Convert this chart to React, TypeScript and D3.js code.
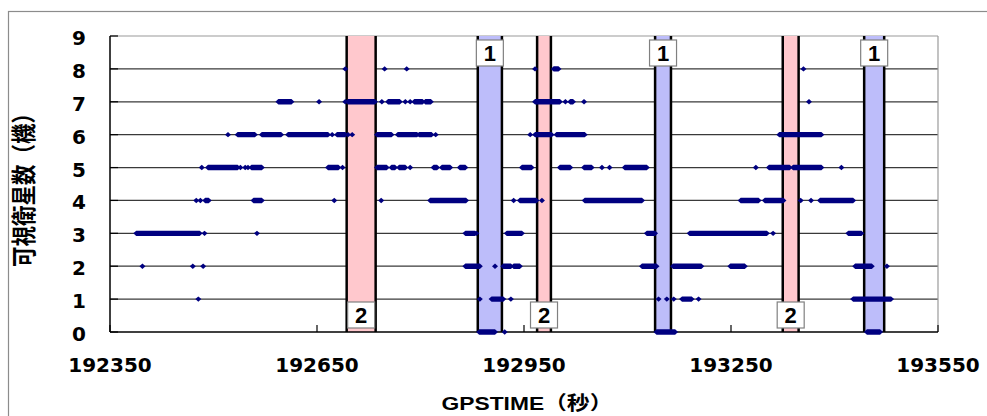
import React from "react";
import * as d3 from "d3";

type Span = [number, number];

// Axis ticks
const xTicks = [192350, 192650, 192950, 193250, 193550];
const yTicks = [0, 1, 2, 3, 4, 5, 6, 7, 8, 9];

// Highlighted intervals (GPSTIME seconds) and their marker labels
const bandStart = [192693, 192883, 192969, 193140, 193325, 193443];
const bandEnd = [192735, 192918, 192989, 193163, 193348, 193472];
const bandType = [2, 1, 2, 1, 2, 1];

// Epochs with a given number of visible satellites, as [from, to] runs
const visible8: Span[] = [[192691, 192691], [192748, 192748], [192780, 192780], [192966, 192966], [192993, 193000], [193355, 193355]];
const visible7: Span[] = [[192594, 192613], [192653, 192653], [192691, 192691], [192695, 192734], [192744, 192744], [192753, 192770], [192778, 192778], [192785, 192785], [192791, 192803], [192807, 192815], [192966, 193002], [193010, 193010], [193017, 193021], [193037, 193037], [193363, 193363]];
const visible6: Span[] = [[192521, 192521], [192535, 192560], [192570, 192598], [192608, 192666], [192672, 192672], [192679, 192691], [192695, 192695], [192701, 192701], [192737, 192758], [192767, 192795], [192798, 192816], [192822, 192822], [192959, 192959], [192966, 192990], [192997, 193038], [193320, 193381]];
const visible5: Span[] = [[192483, 192483], [192492, 192535], [192539, 192539], [192546, 192546], [192550, 192550], [192555, 192570], [192666, 192681], [192687, 192687], [192737, 192751], [192758, 192763], [192769, 192778], [192785, 192785], [192819, 192824], [192831, 192843], [192857, 192865], [192947, 192961], [193002, 193017], [193037, 193048], [193063, 193063], [193074, 193074], [193096, 193128], [193286, 193286], [193305, 193335], [193340, 193381], [193410, 193410]];
const visible4: Span[] = [[192475, 192475], [192481, 192481], [192488, 192493], [192558, 192570], [192675, 192675], [192743, 192743], [192814, 192866], [192935, 192935], [192944, 192968], [192976, 192976], [193038, 193121], [193264, 193290], [193299, 193326], [193351, 193351], [193366, 193366], [193379, 193427]];
const visible3: Span[] = [[192388, 192480], [192487, 192487], [192563, 192563], [192865, 192879], [192881, 192881], [192925, 192947], [193128, 193140], [193190, 193302], [193311, 193311], [193420, 193439]];
const visible2: Span[] = [[192397, 192397], [192470, 192470], [192485, 192485], [192865, 192886], [192908, 192908], [192920, 192931], [192935, 192944], [193121, 193142], [193166, 193207], [193249, 193270], [193430, 193454], [193476, 193476]];
const visible1: Span[] = [[192478, 192478], [192886, 192886], [192903, 192920], [192931, 192931], [193145, 193145], [193157, 193157], [193167, 193167], [193179, 193193], [193203, 193203], [193427, 193482]];
const visible0: Span[] = [[192885, 192908], [192922, 192922], [193142, 193169], [193447, 193466]];

const rows: [number, Span[]][] = [
  [0, visible0], [1, visible1], [2, visible2], [3, visible3], [4, visible4],
  [5, visible5], [6, visible6], [7, visible7], [8, visible8],
];

const W = 987;
const H = 416;
const plot = { left: 110, right: 938, top: 36, bottom: 332 };

const x = d3.scaleLinear().domain([192350, 193550]).range([plot.left, plot.right]);
const y = d3.scaleLinear().domain([0, 9]).range([plot.bottom, plot.top]);

const NAVY = "#000080";
const numFont = "'DejaVu Sans', sans-serif";
const jpFont = "'Liberation Sans', 'Noto Sans CJK JP', sans-serif";

// Diamond marker, stretched into a bar for consecutive epochs
function spanPath([t0, t1]: Span, n: number): string {
  const a = x(t0);
  const b = x(t1);
  const cy = y(n);
  const hw = 3;
  const hh = 2.7;
  const p = d3.path();
  p.moveTo(a - hw, cy);
  p.lineTo(a, cy - hh);
  p.lineTo(b, cy - hh);
  p.lineTo(b + hw, cy);
  p.lineTo(b, cy + hh);
  p.lineTo(a, cy + hh);
  p.closePath();
  return p.toString();
}

export default function App() {
  const boxW = 27;
  const boxH = 26;
  return (
    <svg
      width={W}
      height={H}
      style={{ position: "absolute", left: 0, top: 0, background: "#fff" }}
    >
      {/* outer chart frame */}
      <rect x={8.5} y={11.5} width={1200} height={600} fill="#fff" stroke="#8c8c8c" strokeWidth={1.2} />

      {/* plot area */}
      <rect x={plot.left} y={plot.top} width={plot.right - plot.left} height={plot.bottom - plot.top} fill="#fff" />

      {/* horizontal gridlines */}
      {yTicks.filter((v) => v > 0 && v < 9).map((v) => (
        <line key={`g${v}`} x1={plot.left} x2={plot.right} y1={y(v)} y2={y(v)} stroke="#3a3a3a" strokeWidth={1.2} />
      ))}
      <line x1={plot.left} x2={plot.right} y1={plot.top} y2={plot.top} stroke="#9a9a9a" strokeWidth={1.2} />
      <line x1={plot.right} x2={plot.right} y1={plot.top} y2={plot.bottom} stroke="#9a9a9a" strokeWidth={1.2} />

      {/* highlighted intervals */}
      {bandStart.map((s, i) => {
        const x0 = x(s);
        const x1 = x(bandEnd[i]);
        return (
          <g key={`b${i}`}>
            <rect
              x={x0}
              y={plot.top}
              width={x1 - x0}
              height={plot.bottom - plot.top}
              fill={bandType[i] === 1 ? "#bdbdfa" : "#ffc8cd"}
            />
            <line x1={x0} x2={x0} y1={plot.top} y2={plot.bottom} stroke="#000" strokeWidth={2.5} />
            <line x1={x1} x2={x1} y1={plot.top} y2={plot.bottom} stroke="#000" strokeWidth={2.5} />
          </g>
        );
      })}

      {/* axes */}
      <line x1={plot.left} x2={plot.left} y1={plot.top} y2={plot.bottom} stroke="#000" strokeWidth={1.5} />
      <line x1={plot.left} x2={plot.right} y1={plot.bottom} y2={plot.bottom} stroke="#000" strokeWidth={1.5} />
      {yTicks.map((v) => (
        <line key={`yt${v}`} x1={plot.left} x2={plot.left + 8} y1={y(v)} y2={y(v)} stroke="#000" strokeWidth={1.2} />
      ))}
      {xTicks.map((v) => (
        <line key={`xt${v}`} x1={x(v)} x2={x(v)} y1={plot.bottom - 7} y2={plot.bottom} stroke="#000" strokeWidth={1.2} />
      ))}

      {/* satellite counts */}
      <g fill={NAVY}>
        {rows.map(([n, spans]) =>
          spans.map((s, j) => <path key={`p${n}-${j}`} d={spanPath(s, n)} />)
        )}
      </g>

      {/* interval labels */}
      {bandStart.map((s, i) => {
        const cx = (x(s) + x(bandEnd[i])) / 2;
        const top = bandType[i] === 1 ? plot.top + 4 : plot.bottom - 4 - boxH;
        return (
          <g key={`l${i}`}>
            <rect x={cx - boxW / 2} y={top} width={boxW} height={boxH} fill="#fff" stroke="#808080" strokeWidth={1.2} />
            <text
              x={cx}
              y={top + boxH / 2 + 8}
              textAnchor="middle"
              fontFamily="'Liberation Sans', sans-serif"
              fontWeight="bold"
              fontSize={22}
              fill="#000"
            >
              {bandType[i]}
            </text>
          </g>
        );
      })}

      {/* tick labels */}
      {yTicks.map((v) => (
        <text
          key={`yl${v}`}
          x={86}
          y={y(v) + 9}
          textAnchor="end"
          fontFamily={numFont}
          fontWeight="bold"
          fontSize={20}
          fill="#000"
        >
          {v}
        </text>
      ))}
      {xTicks.map((v) => (
        <text
          key={`xl${v}`}
          x={x(v)}
          y={372}
          textAnchor="middle"
          fontFamily={numFont}
          fontWeight="bold"
          fontSize={20}
          fill="#000"
        >
          {v}
        </text>
      ))}

      {/* axis titles */}
      <text
        transform={`translate(${(plot.left + plot.right) / 2 + 3},410) scale(1.2,1)`}
        textAnchor="middle"
        fontFamily={jpFont}
        fontWeight="bold"
        fontSize={19}
        fill="#000"
      >
        GPSTIME（秒）
      </text>
      <text
        transform={`translate(33,185) rotate(-90) scale(1,1.2)`}
        textAnchor="middle"
        fontFamily="'Noto Sans CJK JP', sans-serif"
        fontWeight="bold"
        fontSize={20.5}
        fill="#000"
      >
        可視衛星数（機）
      </text>
    </svg>
  );
}
